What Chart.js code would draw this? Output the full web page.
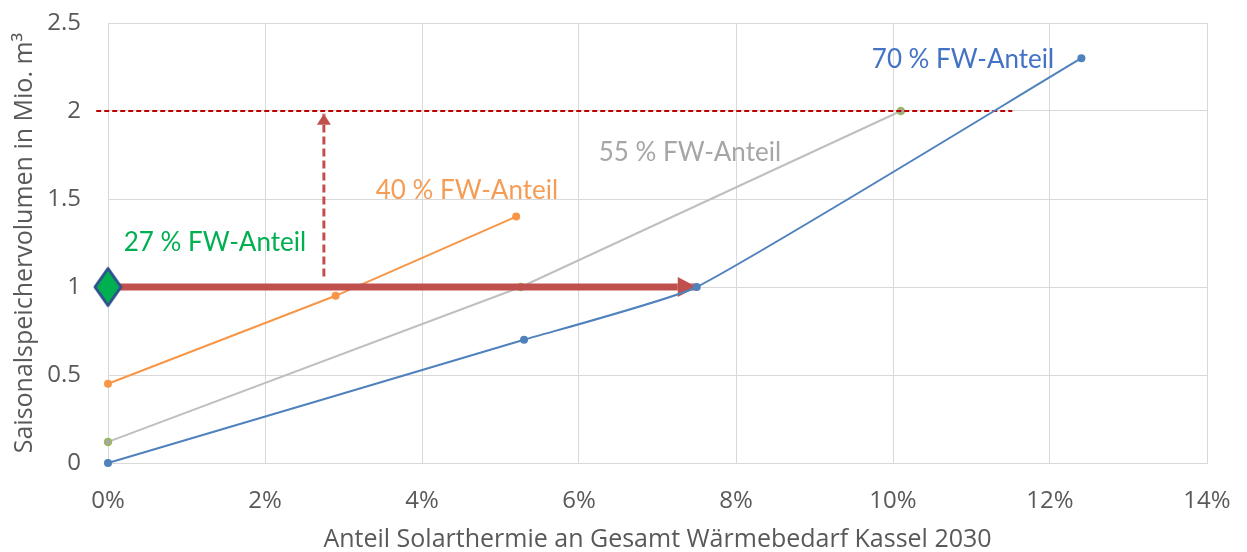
<!DOCTYPE html>
<html>
<head>
<meta charset="utf-8">
<script src="https://cdn.jsdelivr.net/npm/chart.js@4/dist/chart.umd.min.js"></script>
<style>
  html, body { margin: 0; padding: 0; background: #ffffff; }
  #wrap { width: 1247px; height: 552px; }
</style>
</head>
<body>
<div id="wrap"><canvas id="chart" width="1247" height="552"></canvas></div>
<script>
// Solar-thermal share (x) vs. seasonal storage volume (y) for district-heating shares
const fw70X = [0, 0.053, 0.075, 0.124];
const fw70Y = [0, 0.70, 1.00, 2.30];
const fw55X = [0, 0.0526, 0.101];
const fw55Y = [0.12, 1.00, 2.00];
const fw40X = [0, 0.029, 0.052];
const fw40Y = [0.45, 0.95, 1.40];
const fw27X = [0];
const fw27Y = [1.00];

// Annotation lines: shift arrow at constant volume, target volume, raise arrow
const shiftArrowX = [0, 0.075];
const shiftArrowY = [1.00, 1.00];
const targetLineX = [-0.0015, 0.1152];
const targetLineY = [2.00, 2.00];
const raiseArrowX = [0.0275, 0.0275];
const raiseArrowY = [1.06, 1.985];

// Axis ticks
const xTickValues = [0, 0.02, 0.04, 0.06, 0.08, 0.10, 0.12, 0.14];
const yTickValues = [0, 0.5, 1, 1.5, 2, 2.5];

// Series captions and where they sit (in axis units)
const captionTexts = ['70 % FW-Anteil', '55 % FW-Anteil', '40 % FW-Anteil', '27 % FW-Anteil'];
const captionX = [0.0973, 0.0625, 0.0341, 0.002];
const captionY = [2.29, 1.766, 1.545, 1.25];
const captionColors = ['#4472C4', '#A6A6A6', '#F59D57', '#00B050'];

const toPoints = (xs, ys) => xs.map((v, i) => ({ x: v, y: ys[i] }));

function diamondImage(w, h, fill, stroke, lw) {
  const c = document.createElement('canvas');
  c.width = Math.ceil(w + lw * 2);
  c.height = Math.ceil(h + lw * 2);
  const g = c.getContext('2d');
  const cx = c.width / 2, cy = c.height / 2;
  g.beginPath();
  g.moveTo(cx, cy - h / 2);
  g.lineTo(cx + w / 2, cy);
  g.lineTo(cx, cy + h / 2);
  g.lineTo(cx - w / 2, cy);
  g.closePath();
  g.fillStyle = fill;
  g.fill();
  g.lineWidth = lw;
  g.lineJoin = 'round';
  g.strokeStyle = stroke;
  g.stroke();
  return c;
}

// Arrow heads on datasets carrying an `arrowHead` spec; the shaft is kept out of the head
function headPath(ctx, meta, head) {
  const pts = meta.data;
  const a = pts[pts.length - 2], b = pts[pts.length - 1];
  const ang = Math.atan2(b.y - a.y, b.x - a.x);
  const c = Math.cos(ang), s = Math.sin(ang);
  const bx = b.x - c * head.length, by = b.y - s * head.length;
  const px = -s * head.width / 2, py = c * head.width / 2;
  ctx.moveTo(b.x, b.y);
  ctx.lineTo(bx + px, by + py);
  ctx.lineTo(bx - px, by - py);
  ctx.closePath();
}
const arrowHeads = {
  id: 'arrowHeads',
  beforeDatasetDraw(chart, args) {
    const ds = chart.data.datasets[args.index];
    if (!ds.arrowHead) return;
    const ctx = chart.ctx;
    ctx.save();
    ctx.beginPath();
    ctx.rect(0, 0, chart.width, chart.height);
    headPath(ctx, args.meta, ds.arrowHead);
    ctx.clip('evenodd');
  },
  afterDatasetDraw(chart, args) {
    const ds = chart.data.datasets[args.index];
    if (!ds.arrowHead) return;
    const ctx = chart.ctx;
    ctx.restore();
    ctx.save();
    ctx.beginPath();
    headPath(ctx, args.meta, ds.arrowHead);
    ctx.fillStyle = ds.borderColor;
    ctx.fill();
    ctx.restore();
  }
};

const seriesCaptions = {
  id: 'seriesCaptions',
  afterDatasetsDraw(chart) {
    const { ctx, scales: { x, y } } = chart;
    ctx.save();
    ctx.font = '26px Lato';
    ctx.textAlign = 'left';
    ctx.textBaseline = 'middle';
    captionTexts.forEach((t, i) => {
      ctx.fillStyle = captionColors[i];
      ctx.fillText(t, x.getPixelForValue(captionX[i]), y.getPixelForValue(captionY[i]));
    });
    ctx.restore();
  }
};

const tickFont = { family: "'Open Sans'", size: 24 };
const titleFont = { family: "'Open Sans'", size: 25, lineHeight: 1 };

function build() {
  const ctx = document.getElementById('chart').getContext('2d');
  new Chart(ctx, {
    type: 'line',
    data: {
      datasets: [
        {
          label: '27 % FW-Anteil',
          data: toPoints(fw27X, fw27Y),
          showLine: false,
          pointStyle: diamondImage(26, 37, '#00B050', '#2F528F', 3),
          order: -1
        },
        {
          label: '70 % FW-Anteil',
          data: toPoints(fw70X, fw70Y),
          borderColor: '#4F81BD',
          backgroundColor: '#4F81BD',
          borderWidth: 2,
          tension: 0.15,
          pointRadius: 4,
          pointBorderWidth: 0,
          order: 0
        },
        {
          label: 'Verschiebung',
          data: toPoints(shiftArrowX, shiftArrowY),
          borderColor: '#C0504D',
          borderWidth: 7,
          borderCapStyle: 'butt',
          pointRadius: 0,
          arrowHead: { length: 19, width: 20 },
          order: 1
        },
        {
          label: 'Zielvolumen',
          data: toPoints(targetLineX, targetLineY),
          borderColor: '#C00000',
          borderWidth: 2,
          borderDash: [5, 3],
          borderCapStyle: 'butt',
          pointRadius: 0,
          order: 1
        },
        {
          label: 'Anhebung',
          data: toPoints(raiseArrowX, raiseArrowY),
          borderColor: '#C0504D',
          borderWidth: 3,
          borderDash: [8, 4],
          borderCapStyle: 'butt',
          pointRadius: 0,
          arrowHead: { length: 11, width: 14 },
          order: 1
        },
        {
          label: '55 % FW-Anteil',
          data: toPoints(fw55X, fw55Y),
          borderColor: '#BFBFBF',
          backgroundColor: '#A5A5A5',
          pointBorderColor: '#9BBB59',
          pointBorderWidth: 1.5,
          borderWidth: 2,
          pointRadius: 3.5,
          order: 2
        },
        {
          label: '40 % FW-Anteil',
          data: toPoints(fw40X, fw40Y),
          borderColor: '#F79646',
          backgroundColor: '#F79646',
          borderWidth: 2,
          pointRadius: 4,
          pointBorderWidth: 0,
          order: 2
        }
      ]
    },
    options: {
      responsive: false,
      animation: false,
      devicePixelRatio: 1,
      locale: 'en-US',
      clip: false,
      layout: { padding: { top: 23, right: 40, left: 0, bottom: 0 } },
      plugins: { legend: { display: false }, tooltip: { enabled: false } },
      elements: { point: { hoverRadius: 0 } },
      scales: {
        x: {
          type: 'linear',
          min: 0,
          max: 0.14,
          afterBuildTicks: (s) => { s.ticks = xTickValues.map(v => ({ value: v })); },
          afterFit: (s) => { s.height = 89; s.paddingLeft = 0; s.paddingRight = 0; },
          grid: { color: '#D9D9D9', lineWidth: 1, drawTicks: false },
          border: { color: '#D9D9D9' },
          ticks: {
            padding: 24,
            color: '#595959',
            font: tickFont,
            callback: (v) => Math.round(v * 100) + '%'
          },
          title: {
            display: true,
            text: 'Anteil Solarthermie an Gesamt Wärmebedarf Kassel 2030',
            color: '#595959',
            font: titleFont,
            padding: { top: 0, bottom: 0 }
          }
        },
        y: {
          type: 'linear',
          min: 0,
          max: 2.5,
          afterBuildTicks: (s) => { s.ticks = yTickValues.map(v => ({ value: v })); },
          afterFit: (s) => { s.width = 108; s.paddingTop = 0; s.paddingBottom = 0; },
          grid: { color: '#D9D9D9', lineWidth: 1, drawTicks: false },
          border: { color: '#D9D9D9' },
          ticks: {
            padding: 27,
            color: '#595959',
            font: tickFont,
            callback: (v) => String(v)
          },
          title: {
            display: true,
            text: 'Saisonalspeichervolumen in Mio. m³',
            color: '#595959',
            font: titleFont,
            padding: { top: 12, bottom: 0 }
          }
        }
      }
    },
    plugins: [arrowHeads, seriesCaptions]
  });
}

if (document.fonts && document.fonts.load) {
  Promise.all([document.fonts.load('26px Lato'), document.fonts.load("24px 'Open Sans'")]).then(build, build);
} else {
  build();
}
</script>
</body>
</html>
